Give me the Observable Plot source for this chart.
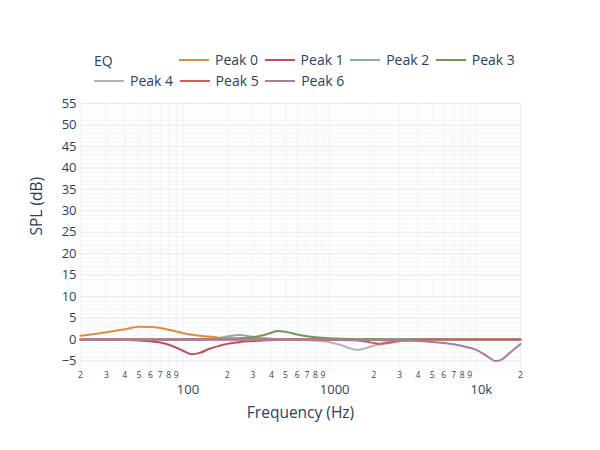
<!DOCTYPE html>
<html>
<head>
<meta charset="utf-8">
<script src="https://cdn.jsdelivr.net/npm/d3@7"></script>
<script src="https://cdn.jsdelivr.net/npm/@observablehq/plot@0.6"></script>
<style>
  html, body { margin: 0; padding: 0; background: #fff; }
  #wrap { position: relative; width: 600px; height: 450px; font-family: "Open Sans", Verdana, Arial, sans-serif; color: #2a3f5f; }
  #legend { position: relative; width: 600px; height: 90px; }
  .lg-title { position: absolute; font-size: 14px; }
  .lg-item { position: absolute; font-size: 14px; display: flex; align-items: center; white-space: nowrap; }
  .lg-line { width: 30px; height: 0; border-top: 2px solid; margin-right: 6px; }
  svg { display: block; }
</style>
</head>
<body>
<div id="wrap">
  <div id="legend"></div>
  <div id="chart"></div>
</div>
<script>
// ---- data ----
const seriesNames = ["Peak 0", "Peak 1", "Peak 2", "Peak 3", "Peak 4", "Peak 5", "Peak 6"];
const seriesColors = ["#DB8F3A", "#B8505E", "#8AABB0", "#6E9A50", "#B4B4B4", "#D45A55", "#A67CA2"];

const freqs = [20, 25, 30, 40, 50, 60, 70, 80, 90, 100, 115, 130, 150, 175, 200, 240, 280, 300, 350, 400, 440, 500, 600, 700, 800, 1000, 1200, 1400, 1550, 1800, 2000, 2200, 2500, 3000, 4000, 5000, 6000, 7000, 8000, 10000, 12000, 13500, 15000, 17000, 20000];

const peak0 = [0.9, 1.3, 1.7, 2.4, 3.0, 2.95, 2.7, 2.3, 1.9, 1.5, 1.15, 0.9, 0.7, 0.45, 0.3, 0.15, 0.07, 0.05, 0.02, 0, 0, 0, 0, 0, 0, 0, 0, 0, 0, 0, 0, 0, 0, 0, 0, 0, 0, 0, 0, 0, 0, 0, 0, 0, 0];
const peak1 = [0, -0.02, -0.05, -0.1, -0.2, -0.4, -0.7, -1.2, -1.9, -2.6, -3.4, -3.1, -2.2, -1.5, -1.0, -0.6, -0.4, -0.35, -0.2, -0.15, -0.1, -0.05, 0, 0, 0, 0, 0, 0, 0, 0, 0, 0, 0, 0, 0, 0, 0, 0, 0, 0, 0, 0, 0, 0, 0];
const peak2 = [0, 0, 0, 0, 0, 0, 0, 0, 0, 0.02, 0.05, 0.1, 0.2, 0.4, 0.7, 1.05, 0.8, 0.6, 0.35, 0.2, 0.12, 0.05, 0.02, 0, 0, 0, 0, 0, 0, 0, 0, 0, 0, 0, 0, 0, 0, 0, 0, 0, 0, 0, 0, 0, 0];
const peak3 = [0, 0, 0, 0, 0, 0, 0, 0.02, 0.03, 0.05, 0.07, 0.1, 0.12, 0.15, 0.2, 0.3, 0.45, 0.55, 1.0, 1.6, 2.0, 1.8, 1.2, 0.8, 0.55, 0.3, 0.2, 0.15, 0.1, 0.08, 0.05, 0.03, 0.02, 0, 0, 0, 0, 0, 0, 0, 0, 0, 0, 0, 0];
const peak4 = [0, 0, 0, 0, 0, 0, 0, 0, 0, 0, 0, 0, 0, 0, 0, 0, 0, 0, 0, 0, 0, -0.05, -0.1, -0.15, -0.25, -0.6, -1.3, -2.1, -2.4, -1.9, -1.4, -1.0, -0.5, -0.2, -0.05, 0, 0, 0, 0, 0, 0, 0, 0, 0, 0];
const peak5 = [0, 0, 0, 0, 0, 0, 0, 0, 0, 0, 0, 0, 0, 0, 0, 0, 0, 0, 0, 0, 0, 0, 0, 0, 0, -0.05, -0.1, -0.15, -0.2, -0.5, -0.8, -1.0, -0.8, -0.3, -0.05, 0, 0, 0, 0, 0, 0, 0, 0, 0, 0];
const peak6 = [0, 0, 0, 0, 0, 0, 0, 0, 0, 0, 0, 0, 0, 0, 0, 0, 0, 0, 0, 0, 0, 0, 0, 0, 0, 0, -0.02, -0.05, -0.07, -0.1, -0.1, -0.12, -0.15, -0.2, -0.35, -0.55, -0.8, -1.1, -1.5, -2.4, -4.0, -5.0, -4.6, -3.0, -1.0];
const seriesValues = [peak0, peak1, peak2, peak3, peak4, peak5, peak6];

const yMajorTicks = [-5, 0, 5, 10, 15, 20, 25, 30, 35, 40, 45, 50, 55];
const yMinorTicks = d3.range(-7, 56, 1);
const xMajorTicks = [100, 1000, 10000];
const xMajorLabels = ["100", "1000", "10k"];
const xMinorTicks = [20, 30, 40, 50, 60, 70, 80, 90, 200, 300, 400, 500, 600, 700, 800, 900, 2000, 3000, 4000, 5000, 6000, 7000, 8000, 9000, 20000];
const xMinorLabels = ["2", "3", "4", "5", "6", "7", "8", "9", "2", "3", "4", "5", "6", "7", "8", "9", "2", "3", "4", "5", "6", "7", "8", "9", "2"];

// ---- table ----
const rows = [];
seriesNames.forEach((name, si) => {
  freqs.forEach((f, i) => rows.push({series: name, freq: f, spl: seriesValues[si][i]}));
});
const minorLabelRows = xMinorTicks.map((f, i) => ({freq: f, label: xMinorLabels[i]}));
const majorLabelRows = xMajorTicks.map((f, i) => ({freq: f, label: xMajorLabels[i]}));

// ---- legend ----
const legend = document.getElementById("legend");
const t = document.createElement("div");
t.className = "lg-title"; t.textContent = "EQ";
t.style.left = "94px"; t.style.top = "51px";
legend.appendChild(t);
const rowStarts = [179, 94];
const perRow = [4, 3];
let k = 0;
for (let r = 0; r < 2; r++) {
  for (let c = 0; c < perRow[r]; c++, k++) {
    const it = document.createElement("div");
    it.className = "lg-item";
    it.style.left = (rowStarts[r] + c * 85.6) + "px";
    it.style.top = (r === 0 ? 50 : 71) + "px";
    const ln = document.createElement("div");
    ln.className = "lg-line"; ln.style.borderColor = seriesColors[k];
    const tx = document.createElement("span"); tx.textContent = seriesNames[k];
    it.appendChild(ln); it.appendChild(tx);
    legend.appendChild(it);
  }
}

// ---- chart ----
const allGridX = [];
for (const dec of [10, 100, 1000, 10000]) for (let m = 1; m <= 9; m++) { const v = dec * m; if (v >= 20 && v <= 20000) allGridX.push(v); }

const chart = Plot.plot({
  width: 600,
  height: 360,
  marginTop: 10,
  marginBottom: 80,
  marginLeft: 80,
  marginRight: 80,
  style: {fontFamily: '"Open Sans", Verdana, Arial, sans-serif', color: "#2a3f5f", background: "#fff", overflow: "visible"},
  x: {type: "log", domain: [20, 20000], axis: null},
  y: {domain: [-7.2, 55.7], axis: null},
  color: {domain: seriesNames, range: seriesColors},
  marks: [
    Plot.ruleY(yMinorTicks, {stroke: "#f2f5fa", strokeWidth: 1}),
    Plot.ruleX(allGridX, {stroke: "#eef2f8", strokeWidth: 1}),
    Plot.ruleY(yMajorTicks, {stroke: "#e6ebf3", strokeWidth: 1}),
    Plot.ruleY([0], {stroke: "#EBF0F8", strokeWidth: 2}),
    Plot.line(rows, {x: "freq", y: "spl", z: "series", stroke: "series", strokeWidth: 2, curve: "monotone-x"}),
    Plot.text(yMajorTicks, {y: d => d, text: d => String(d).replace("-", "\u2212"), frameAnchor: "left", textAnchor: "end", dx: -4, fontSize: 13, fill: "#2a3f5f"}),
    Plot.text(minorLabelRows, {x: "freq", text: "label", frameAnchor: "bottom", dy: 7, fontSize: 8.5, fill: "#2a3f5f"}),
    Plot.text(majorLabelRows, {x: "freq", text: "label", frameAnchor: "bottom", dy: 23, dx: 5, fontSize: 13, fill: "#2a3f5f"}),
    Plot.text(["Frequency (Hz)"], {frameAnchor: "bottom", dy: 47, fontSize: 15.5, fill: "#2a3f5f"}),
    Plot.text(["SPL (dB)"], {frameAnchor: "left", dx: -43, rotate: -90, fontSize: 15.5, fill: "#2a3f5f"})
  ]
});
document.getElementById("chart").appendChild(chart);
</script>
</body>
</html>
